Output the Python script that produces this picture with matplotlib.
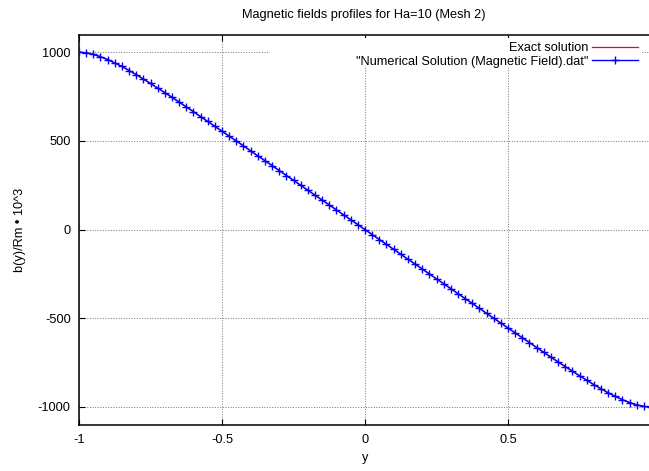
import matplotlib
matplotlib.use("Agg")
import matplotlib.pyplot as plt
from matplotlib.patches import Rectangle

plt.rcParams['font.family'] = ['Liberation Sans', 'DejaVu Sans']
plt.rcParams['axes.unicode_minus'] = False

y_pos = [-1.0, -0.975, -0.95, -0.925, -0.9, -0.875, -0.85, -0.825, -0.8, -0.775,
         -0.75, -0.725, -0.7, -0.675, -0.65, -0.625, -0.6, -0.575, -0.55, -0.525,
         -0.5, -0.475, -0.45, -0.425, -0.4, -0.375, -0.35, -0.325, -0.3, -0.275,
         -0.25, -0.225, -0.2, -0.175, -0.15, -0.125, -0.1, -0.075, -0.05, -0.025,
         0.0, 0.025, 0.05, 0.075, 0.1, 0.125, 0.15, 0.175, 0.2, 0.225,
         0.25, 0.275, 0.3, 0.325, 0.35, 0.375, 0.4, 0.425, 0.45, 0.475,
         0.5, 0.525, 0.55, 0.575, 0.6, 0.625, 0.65, 0.675, 0.7, 0.725,
         0.75, 0.775, 0.8, 0.825, 0.85, 0.875, 0.9, 0.925, 0.95, 0.975, 1.0]

b_exact = [1000, 997, 988, 975, 959, 940, 920, 897, 874, 849,
           824, 798, 772, 746, 719, 692, 665, 637, 610, 582,
           555, 527, 500, 472, 444, 416, 389, 361, 333, 305,
           278, 250, 222, 194, 167, 139, 111, 83, 56, 28,
           0, -28, -56, -83, -111, -139, -167, -194, -222, -250,
           -278, -305, -333, -361, -389, -416, -444, -472, -500, -527,
           -555, -582, -610, -637, -665, -692, -719, -746, -772, -798,
           -824, -849, -874, -897, -920, -940, -959, -975, -988, -997, -1000]

b_numerical = [1000, 997, 988, 975, 959, 940, 920, 897, 874, 849,
               824, 798, 772, 746, 719, 692, 665, 637, 610, 582,
               555, 527, 500, 472, 444, 416, 389, 361, 333, 305,
               278, 250, 222, 194, 167, 139, 111, 83, 56, 28,
               0, -28, -56, -83, -111, -139, -167, -194, -222, -250,
               -278, -305, -333, -361, -389, -416, -444, -472, -500, -527,
               -555, -582, -610, -637, -665, -692, -719, -746, -772, -798,
               -824, -849, -874, -897, -920, -940, -959, -975, -988, -997, -1000]

x_ticks = [-1, -0.5, 0, 0.5]
x_tick_labels = ["-1", "-0.5", "0", "0.5"]
y_ticks = [-1000, -500, 0, 500, 1000]
y_tick_labels = ["-1000", "-500", "0", "500", "1000"]

W, H = 649, 471
fig = plt.figure(figsize=(W / 100, H / 100), dpi=100)
ax = fig.add_axes([79 / W, 1 - 424.7 / H, 1 - 79 / W, (424.7 - 34.5) / H])

fs = 9.2
ax.plot(y_pos, b_exact, color='#ff0000', lw=0.9, label='Exact solution', zorder=3)
ax.plot(y_pos, b_numerical, color='#0000ff', lw=1.0, marker='+', ms=6, mew=1.0,
        label='"Numerical Solution (Magnetic Field).dat"', zorder=4)

ax.set_xlim(-1, 0.993)
ax.set_ylim(-1100, 1100)
ax.set_xticks(x_ticks)
ax.set_xticklabels(x_tick_labels)
ax.set_yticks(y_ticks)
ax.set_yticklabels(y_tick_labels)
ax.tick_params(direction='in', length=4, width=0.8, top=True, right=False,
               labelsize=fs, colors='black')
ax.tick_params(axis='x', pad=7)
ax.tick_params(axis='y', pad=6)
ax.grid(True, color='#808080', lw=0.75, linestyle=(0, (1, 1.5)))
ax.set_axisbelow(True)
for s in ax.spines.values():
    s.set_linewidth(1.1)
    s.set_color('black')
ax.spines['right'].set_visible(False)

# opaque key area (hides grid behind the key, as in the original)
ax.add_patch(Rectangle((0.335, 0.919), 0.651, 0.072, transform=ax.transAxes,
                       facecolor='white', edgecolor='none', zorder=2.5))

leg = ax.legend(loc='upper right', bbox_to_anchor=(0.986, 0.989), borderaxespad=0,
                markerfirst=False, numpoints=1, fontsize=fs, frameon=False,
                handlelength=3.6, handletextpad=0.25,
                labelspacing=0.15, borderpad=0.25)

fig.text(364 / W, 1 - 15.3 / H, 'Magnetic fields profiles for Ha=10 (Mesh 2)',
         ha='center', va='center', fontsize=fs)
fig.text(365 / W, 1 - 458 / H, 'y', ha='center', va='center', fontsize=fs)
fig.text(20 / W, 1 - 230 / H, 'b(y)/Rm • 10^3', ha='center', va='center',
         rotation=90, fontsize=fs)

fig.savefig('out.png', dpi=100)
